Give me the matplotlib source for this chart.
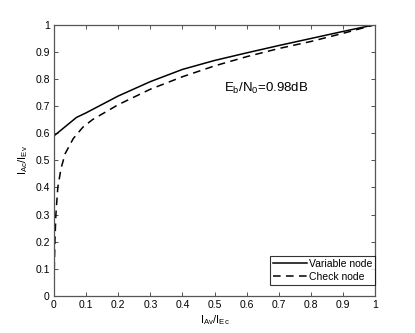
import numpy as np
import matplotlib.pyplot as plt

plt.rcParams['font.family'] = ['Liberation Sans', 'DejaVu Sans']
plt.rcParams['mathtext.fontset'] = 'custom'
plt.rcParams['mathtext.rm'] = 'Liberation Sans'
plt.rcParams['mathtext.it'] = 'Liberation Sans'

# EXIT curves
var_x = [0.0, 0.07, 0.1, 0.2, 0.3, 0.4, 0.5, 0.6, 0.7, 0.8, 0.9, 1.0]
var_y = [0.59, 0.658, 0.675, 0.737, 0.79, 0.835, 0.868, 0.896, 0.923, 0.949, 0.975, 1.0]

chk_x = [0.0, 0.001, 0.003, 0.006, 0.012, 0.022, 0.035, 0.06, 0.09, 0.12, 0.2, 0.3,
         0.4, 0.5, 0.6, 0.7, 0.8, 0.9, 1.0]
chk_y = [0.0, 0.1, 0.2, 0.3, 0.4, 0.47, 0.525, 0.58, 0.622, 0.65, 0.705, 0.762,
         0.808, 0.848, 0.882, 0.912, 0.938, 0.968, 1.0]

ticks = np.round(np.arange(0, 1.01, 0.1), 1)
tick_labels = ['0', '0.1', '0.2', '0.3', '0.4', '0.5', '0.6', '0.7', '0.8', '0.9', '1']

fig = plt.figure(figsize=(4.15, 3.33), dpi=100)
ax = fig.add_axes([0.13, 0.111, 0.774, 0.815])

ax.plot(var_x, var_y, color='black', lw=1.1, ls='-', label='Variable node')
ax.plot(chk_x, chk_y, color='black', lw=1.1, ls=(0, (5, 3.5)), label='Check node')

ax.set_xlim(0, 1)
ax.set_ylim(0, 1)
ax.set_xticks(ticks)
ax.set_yticks(ticks)
ax.set_xticklabels(tick_labels)
ax.set_yticklabels(tick_labels)
ax.tick_params(direction='in', length=3, width=0.6, labelsize=7.5, top=True, right=True,
               colors='#333333', labelcolor='black', pad=3)
for s in ax.spines.values():
    s.set_color('#555555')
    s.set_linewidth(0.9)

ax.set_xlabel(r'$\mathregular{I_{Av}/I_{Ec}}$', fontsize=8, labelpad=2)
ax.set_ylabel(r'$\mathregular{I_{Ac}/I_{Ev}}$', fontsize=8, labelpad=4)

ax.text(0.53, 0.766, r'$\mathregular{E_b/N_0}$=0.98dB', fontsize=9.5, va='center', ha='left')

leg = ax.legend(loc='lower right', bbox_to_anchor=(1.0, 0.04), borderaxespad=0,
                fontsize=7.5, frameon=True, fancybox=False, handlelength=3.2,
                handletextpad=0.2, borderpad=0.3, labelspacing=0.3)
leg.get_frame().set_edgecolor('black')
leg.get_frame().set_linewidth(0.8)

fig.savefig('out.png', dpi=100)
